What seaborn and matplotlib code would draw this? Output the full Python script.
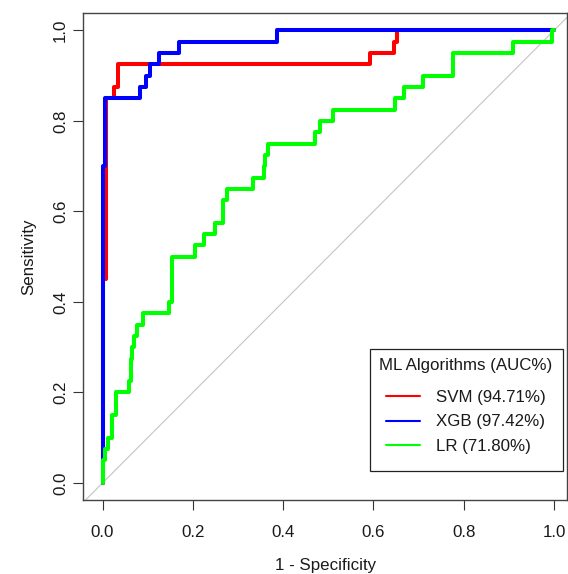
import pandas as pd
import matplotlib.pyplot as plt
from matplotlib.lines import Line2D
import seaborn as sns

# ROC curve vertices (x = 1 - specificity, y = sensitivity)
svm_fpr = [0, 0, 0.008, 0.008, 0.0255, 0.0255, 0.035, 0.035, 0.5925, 0.5925,
           0.6456, 0.6456, 0.6516, 0.6516, 1.0]
svm_tpr = [0, 0.45, 0.45, 0.85, 0.85, 0.875, 0.875, 0.925, 0.925, 0.95,
           0.95, 0.975, 0.975, 1.0, 1.0]

xgb_fpr = [0, 0, 0.006, 0.006, 0.082, 0.082, 0.097, 0.097, 0.105, 0.105,
           0.125, 0.125, 0.169, 0.169, 0.386, 0.386, 1.0]
xgb_tpr = [0, 0.7, 0.7, 0.85, 0.85, 0.875, 0.875, 0.9, 0.9, 0.925,
           0.925, 0.95, 0.95, 0.975, 0.975, 1.0, 1.0]

lr_fpr = [0, 0, 0.0055, 0.0055, 0.013, 0.013, 0.022, 0.022, 0.029, 0.029,
          0.059, 0.059, 0.062, 0.062, 0.066, 0.066, 0.070, 0.070, 0.077, 0.077,
          0.090, 0.090, 0.147, 0.147, 0.153, 0.153, 0.205, 0.205, 0.225, 0.225,
          0.249, 0.249, 0.266, 0.266, 0.275, 0.275, 0.334, 0.334, 0.358, 0.358,
          0.360, 0.360, 0.367, 0.367, 0.471, 0.471, 0.482, 0.482, 0.511, 0.511,
          0.648, 0.648, 0.668, 0.668, 0.711, 0.711, 0.777, 0.777, 0.910, 0.910,
          0.995, 0.995, 1.0]
lr_tpr = [0, 0.05, 0.05, 0.075, 0.075, 0.1, 0.1, 0.15, 0.15, 0.2,
          0.2, 0.225, 0.225, 0.275, 0.275, 0.3, 0.3, 0.325, 0.325, 0.35,
          0.35, 0.375, 0.375, 0.4, 0.4, 0.5, 0.5, 0.525, 0.525, 0.55,
          0.55, 0.575, 0.575, 0.625, 0.625, 0.65, 0.65, 0.675, 0.675, 0.7,
          0.7, 0.725, 0.725, 0.75, 0.75, 0.775, 0.775, 0.8, 0.8, 0.825,
          0.825, 0.85, 0.85, 0.875, 0.875, 0.9, 0.9, 0.95, 0.95, 0.975,
          0.975, 1.0, 1.0]

models = ['SVM (94.71%)', 'XGB (97.42%)', 'LR (71.80%)']
colors = ['#ff0000', '#0000ff', '#00ff00']
ticks = [0.0, 0.2, 0.4, 0.6, 0.8, 1.0]
tick_labels = ['0.0', '0.2', '0.4', '0.6', '0.8', '1.0']

frames = []
for name, fpr, tpr in zip(models, [svm_fpr, xgb_fpr, lr_fpr], [svm_tpr, xgb_tpr, lr_tpr]):
    frames.append(pd.DataFrame({'fpr': fpr, 'tpr': tpr, 'model': name}))
df = pd.concat(frames, ignore_index=True)

sns.set_theme(style='white')
plt.rcParams['font.family'] = ['Liberation Sans', 'DejaVu Sans']
plt.rcParams['text.color'] = '#1a1a1a'
plt.rcParams['axes.labelcolor'] = '#1a1a1a'
plt.rcParams['xtick.color'] = '#333333'
plt.rcParams['ytick.color'] = '#333333'

fig = plt.figure(figsize=(5.68, 5.74), dpi=100)
ax = fig.add_axes([0.1467, 0.1289, 0.8516, 0.849])

ax.axline((0, 0), (1, 1), color='#c4c4c4', lw=0.8, zorder=1)
sns.lineplot(data=df, x='fpr', y='tpr', hue='model', hue_order=models,
             palette=colors, sort=False, estimator=None, lw=2.9,
             legend=False, ax=ax, zorder=2)

ax.set_xlim(-0.0425, 1.029)
ax.set_ylim(-0.0376, 1.0393)
ax.set_xticks(ticks, tick_labels)
ax.set_yticks(ticks, tick_labels, rotation=90, va='center')
ax.tick_params(axis='both', direction='out', length=7, width=0.8,
               labelsize=12.2, bottom=True, left=True, labelcolor='#1a1a1a')
ax.tick_params(axis='x', pad=11)
ax.tick_params(axis='y', pad=4)
ax.set_xlabel('1 - Specificity', fontsize=12.2, labelpad=13)
ax.set_ylabel('Sensitivity', fontsize=12.2, labelpad=12)
for s in ax.spines.values():
    s.set_color('#444444')
    s.set_linewidth(1)

handles = [Line2D([], [], color=c, lw=1.5) for c in colors]
leg = ax.legend(handles, models, title='ML Algorithms (AUC%)', loc='lower right',
                bbox_to_anchor=(0.991, 0.060), borderaxespad=0, fontsize=12.2,
                title_fontsize=12.2, frameon=True, fancybox=False, framealpha=1,
                edgecolor='#222222', borderpad=0.55, labelspacing=0.55,
                handlelength=2.0, handletextpad=0.92, alignment='left')
leg.get_frame().set_linewidth(0.9)
leg._legend_handle_box.pad = 5.5

fig.savefig('out.png', dpi=100)
